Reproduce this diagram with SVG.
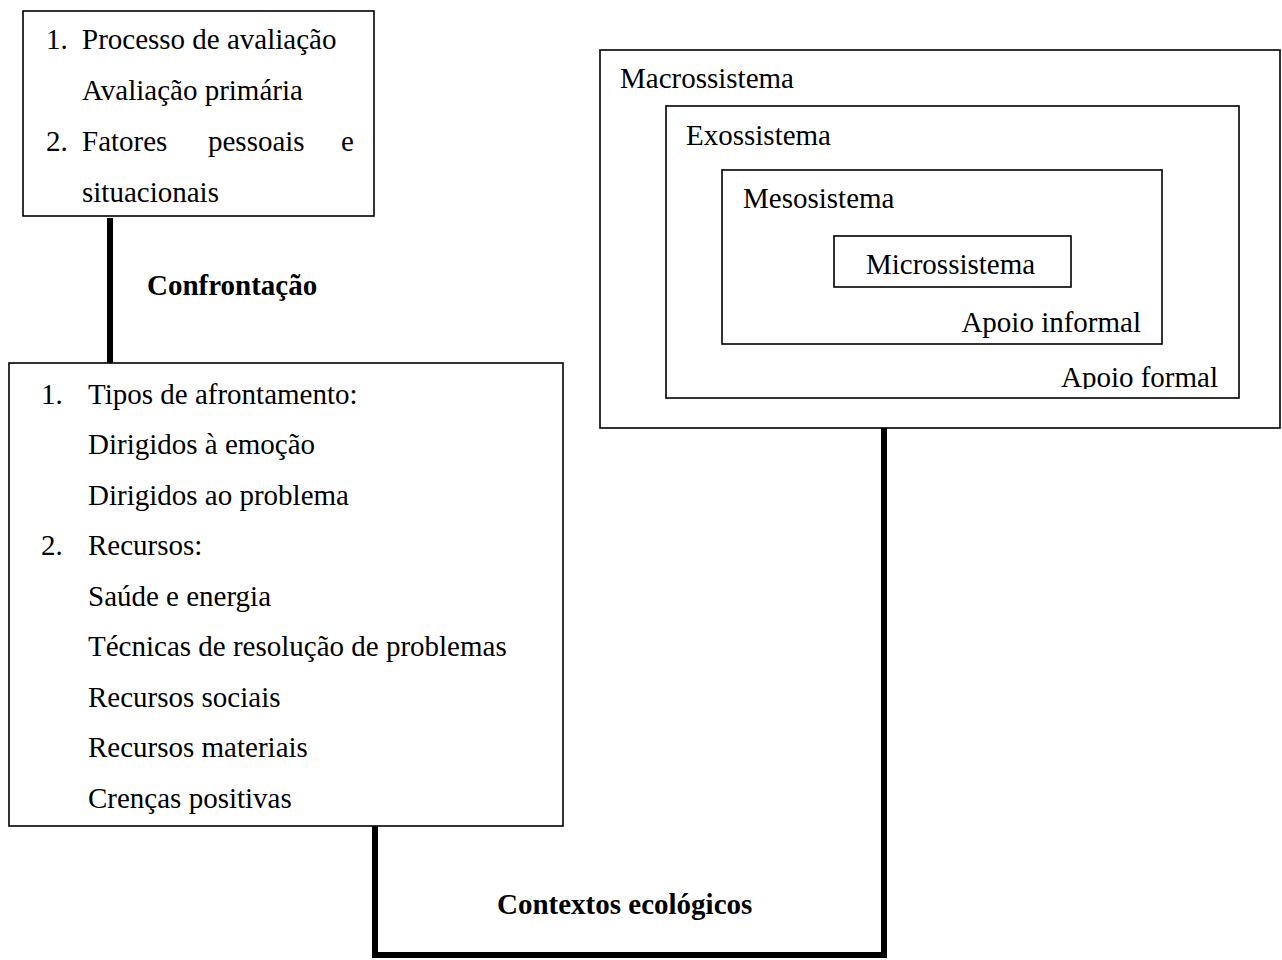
<svg xmlns="http://www.w3.org/2000/svg" width="1282" height="960" viewBox="0 0 1282 960">
<defs>
<style>
.box{fill:#fff;stroke:#000;stroke-width:1.6}
.t{font-family:"Liberation Serif","Times New Roman",serif;font-size:29px;fill:#000}
.b{font-family:"Liberation Serif","Times New Roman",serif;font-size:29px;font-weight:bold;fill:#000}
.c{fill:none;stroke:#000;stroke-width:6}
</style>
<clipPath id="exoclip"><rect x="666" y="106" width="573" height="283"/></clipPath>
</defs>
<rect width="1282" height="960" fill="#fff"/>
<g id="connectors">
<line class="c" x1="110" y1="218" x2="110" y2="364"/>
<polyline class="c" points="375,826 375,955 884,955 884,428"/>
</g>
<g id="avaliacao">
<rect class="box" x="23" y="11" width="351" height="205"/>
<text class="t" x="46" y="49">1.</text>
<text class="t" x="82" y="49">Processo de avaliação</text>
<text class="t" x="82" y="100">Avaliação primária</text>
<text class="t" x="46" y="151">2.</text>
<text class="t" x="82" y="151">Fatores</text>
<text class="t" x="208" y="151">pessoais</text>
<text class="t" x="341" y="151">e</text>
<text class="t" x="82" y="202">situacionais</text>
</g>
<g id="confrontacao-label">
<text class="b" x="147" y="295">Confrontação</text>
</g>
<g id="afrontamento">
<rect class="box" x="9" y="363" width="554" height="463"/>
<text class="t" x="41" y="404">1.</text>
<text class="t" x="88" y="404">Tipos de afrontamento:</text>
<text class="t" x="88" y="454">Dirigidos à emoção</text>
<text class="t" x="88" y="505">Dirigidos ao problema</text>
<text class="t" x="41" y="555">2.</text>
<text class="t" x="88" y="555">Recursos:</text>
<text class="t" x="88" y="606">Saúde e energia</text>
<text class="t" x="88" y="656">Técnicas de resolução de problemas</text>
<text class="t" x="88" y="707">Recursos sociais</text>
<text class="t" x="88" y="757">Recursos materiais</text>
<text class="t" x="88" y="808">Crenças positivas</text>
</g>
<g id="macrossistema">
<rect class="box" x="600" y="50" width="680" height="378"/>
<text class="t" x="620" y="88">Macrossistema</text>
</g>
<g id="exossistema">
<rect class="box" x="666" y="106" width="573" height="292"/>
<text class="t" x="686" y="145">Exossistema</text>
<text class="t" x="1218" y="387" text-anchor="end" clip-path="url(#exoclip)">Apoio formal</text>
</g>
<g id="mesossistema">
<rect class="box" x="722" y="170" width="440" height="174"/>
<text class="t" x="743" y="208">Mesosistema</text>
<text class="t" x="1141" y="332" text-anchor="end">Apoio informal</text>
</g>
<g id="microssistema">
<rect class="box" x="834" y="236" width="237" height="51"/>
<text class="t" x="866" y="274">Microssistema</text>
</g>
<g id="contextos-label">
<text class="b" x="497" y="914">Contextos ecológicos</text>
</g>
</svg>
